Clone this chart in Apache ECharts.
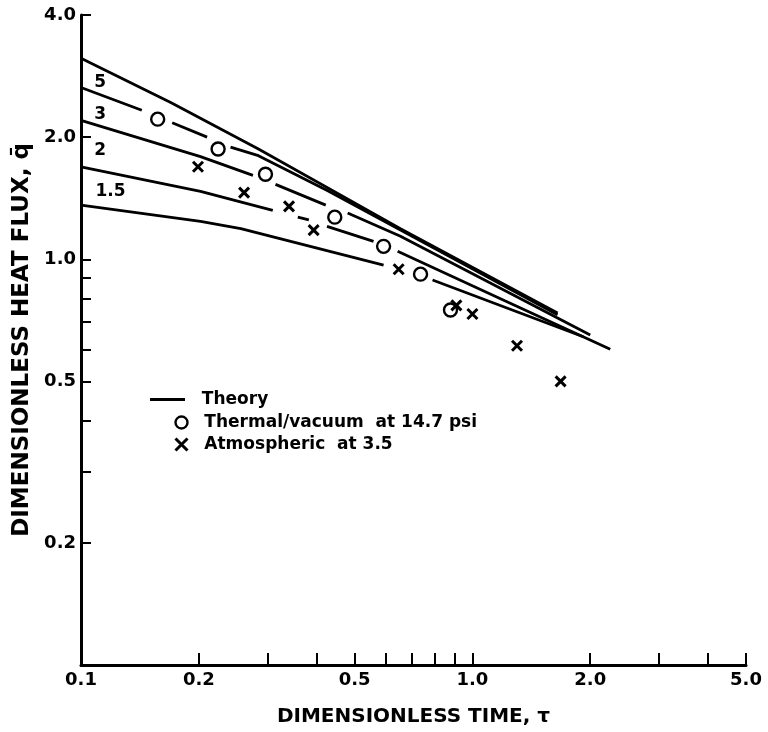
<!DOCTYPE html>
<html>
<head>
<meta charset="utf-8">
<script src="https://cdn.jsdelivr.net/npm/echarts@6/dist/echarts.min.js"></script>
<style>
  html, body { margin: 0; background: #fff; }
  #chart { width: 768px; height: 732px; }
</style>
</head>
<body>
<div id="chart"></div>
<script>
// axis ticks and labels (log axes)
const xLabelValues = [0.1, 0.2, 0.5, 1, 2, 5]
const xTickValues = [0.2, 0.3, 0.4, 0.5, 0.6, 0.7, 0.8, 0.9, 1, 2, 3, 4, 5]
const yLabelValues = [0.2, 0.5, 1, 2, 4]
const yTickValues = [0.2, 0.3, 0.4, 0.5, 0.6, 0.7, 0.8, 0.9, 1, 2, 4]

// theory curves (null = pen lifted around a marker)
const theoryTop = [[0.1, 3.13], [0.17, 2.43], [0.284, 1.87], [0.655, 1.19], [1.65, 0.737]]
const theory5 = [[0.1, 2.65], [0.143, 2.33], null, [0.171, 2.17], [0.21, 2.0], null,
  [0.241, 1.89], [0.284, 1.80], [0.427, 1.476], [0.655, 1.18], [1.65, 0.73]]
const theory3 = [[0.1, 2.2], [0.202, 1.79], [0.275, 1.61], null, [0.314, 1.53], [0.422, 1.36], null,
  [0.48, 1.30], [0.655, 1.14], [2.0, 0.651]]
const theory2 = [[0.1, 1.69], [0.202, 1.47], [0.309, 1.32], null, [0.358, 1.27], [0.382, 1.25], null,
  [0.425, 1.205], [0.559, 1.107], null, [0.644, 1.046], [1.21, 0.79], [2.25, 0.60]]
const theory15 = [[0.1, 1.36], [0.202, 1.24], [0.256, 1.19], [0.593, 0.967], null,
  [0.791, 0.889], [1.92, 0.644]]

// test points
const thermalTau = [0.157, 0.224, 0.296, 0.445, 0.593, 0.737, 0.879]
const thermalQ = [2.215, 1.87, 1.62, 1.27, 1.076, 0.919, 0.75]
const atmosTau = [0.199, 0.261, 0.34, 0.393, 0.648, 0.91, 1.0, 1.30, 1.68]
const atmosQ = [1.69, 1.46, 1.35, 1.18, 0.945, 0.77, 0.733, 0.612, 0.50]

// curve parameter labels
const curveNames = ['5', '3', '2', '1.5']
const curveLabelTau = [0.112, 0.112, 0.112, 0.119]
const curveLabelQ = [2.72, 2.27, 1.85, 1.47]

const font = 'DejaVu Sans'
const thermalName = 'Thermal/vacuum  at 14.7 psi'
const atmosName = 'Atmospheric  at 3.5'

function withGaps (pts) {
  return pts.map(p => p === null ? [null, null] : p)
}

function theorySeries (pts) {
  return {
    type: 'line',
    name: 'Theory',
    data: withGaps(pts),
    symbol: 'none',
    connectNulls: false,
    lineStyle: { color: '#000', width: 2.8 },
    itemStyle: { color: '#000' }
  }
}

let chartDom = document.getElementById('chart')
let myChart = echarts.init(chartDom)
let textBase = { color: '#000', fontFamily: font, fontWeight: 'bold' }

let option = {
  animation: false,
  backgroundColor: '#fff',
  grid: { left: 81, right: 22, top: 15, bottom: 64 },
  legend: [
    {
      data: ['Theory'],
      left: 145,
      top: 386,
      icon: 'rect',
      itemWidth: 35,
      itemHeight: 3,
      itemStyle: { color: '#000', opacity: 1 },
      selectedMode: false,
      formatter: name => '  ' + name,
      textStyle: Object.assign({ fontSize: 17 }, textBase)
    },
    {
      data: [
        { name: thermalName, itemStyle: { color: '#fff', borderColor: '#000', borderWidth: 2.4, opacity: 1 } },
        { name: atmosName, itemStyle: { color: 'none', borderColor: '#000', borderWidth: 3, opacity: 1 } }
      ],
      orient: 'vertical',
      left: 168,
      top: 409,
      itemWidth: 12,
      itemHeight: 12,
      itemGap: 5,
      selectedMode: false,
      formatter: name => '  ' + name,
      textStyle: Object.assign({ fontSize: 17 }, textBase)
    }
  ],
  xAxis: {
    type: 'log',
    logBase: 10,
    min: 0.1,
    max: 5,
    name: 'DIMENSIONLESS TIME, τ',
    nameLocation: 'middle',
    nameGap: 42,
    nameTextStyle: Object.assign({ fontSize: 20 }, textBase),
    axisLine: { lineStyle: { color: '#000', width: 3 } },
    axisTick: { inside: true, length: 12, customValues: xTickValues, lineStyle: { color: '#000', width: 2 } },
    axisLabel: Object.assign({ customValues: xLabelValues, formatter: v => v.toFixed(1), fontSize: 18, margin: 6 }, textBase),
    splitLine: { show: false },
    minorTick: { show: false }
  },
  yAxis: {
    type: 'log',
    logBase: 10,
    min: 0.1,
    max: 4,
    name: 'DIMENSIONLESS HEAT FLUX, q̄',
    nameLocation: 'middle',
    nameGap: 47,
    nameTextStyle: Object.assign({ fontSize: 23 }, textBase),
    axisLine: { lineStyle: { color: '#000', width: 3 } },
    axisTick: { inside: true, length: 10, customValues: yTickValues, lineStyle: { color: '#000', width: 2 } },
    axisLabel: Object.assign({ customValues: yLabelValues, formatter: v => v.toFixed(1), fontSize: 18, margin: 5 }, textBase),
    splitLine: { show: false },
    minorTick: { show: false }
  },
  series: [
    theorySeries(theoryTop),
    theorySeries(theory5),
    theorySeries(theory3),
    theorySeries(theory2),
    theorySeries(theory15),
    {
      type: 'scatter',
      name: thermalName,
      data: thermalTau.map((t, i) => [t, thermalQ[i]]),
      symbol: 'circle',
      symbolSize: 13,
      itemStyle: { color: '#fff', borderColor: '#000', borderWidth: 2.4, opacity: 1 },
      z: 5
    },
    {
      type: 'scatter',
      name: atmosName,
      data: atmosTau.map((t, i) => [t, atmosQ[i]]),
      symbol: 'path://M0,0L10,10M10,0L0,10',
      symbolSize: 10,
      itemStyle: { color: 'none', borderColor: '#000', borderWidth: 3, opacity: 1 },
      z: 6
    },
    {
      type: 'scatter',
      name: 'curve labels',
      data: curveNames.map((n, i) => ({ name: n, value: [curveLabelTau[i], curveLabelQ[i]] })),
      symbolSize: 1,
      itemStyle: { color: 'transparent', opacity: 1 },
      label: Object.assign({ show: true, position: 'inside', formatter: '{b}', fontSize: 17, opacity: 1 }, textBase),
      silent: true
    }
  ]
}

myChart.setOption(option)
</script>
</body>
</html>
